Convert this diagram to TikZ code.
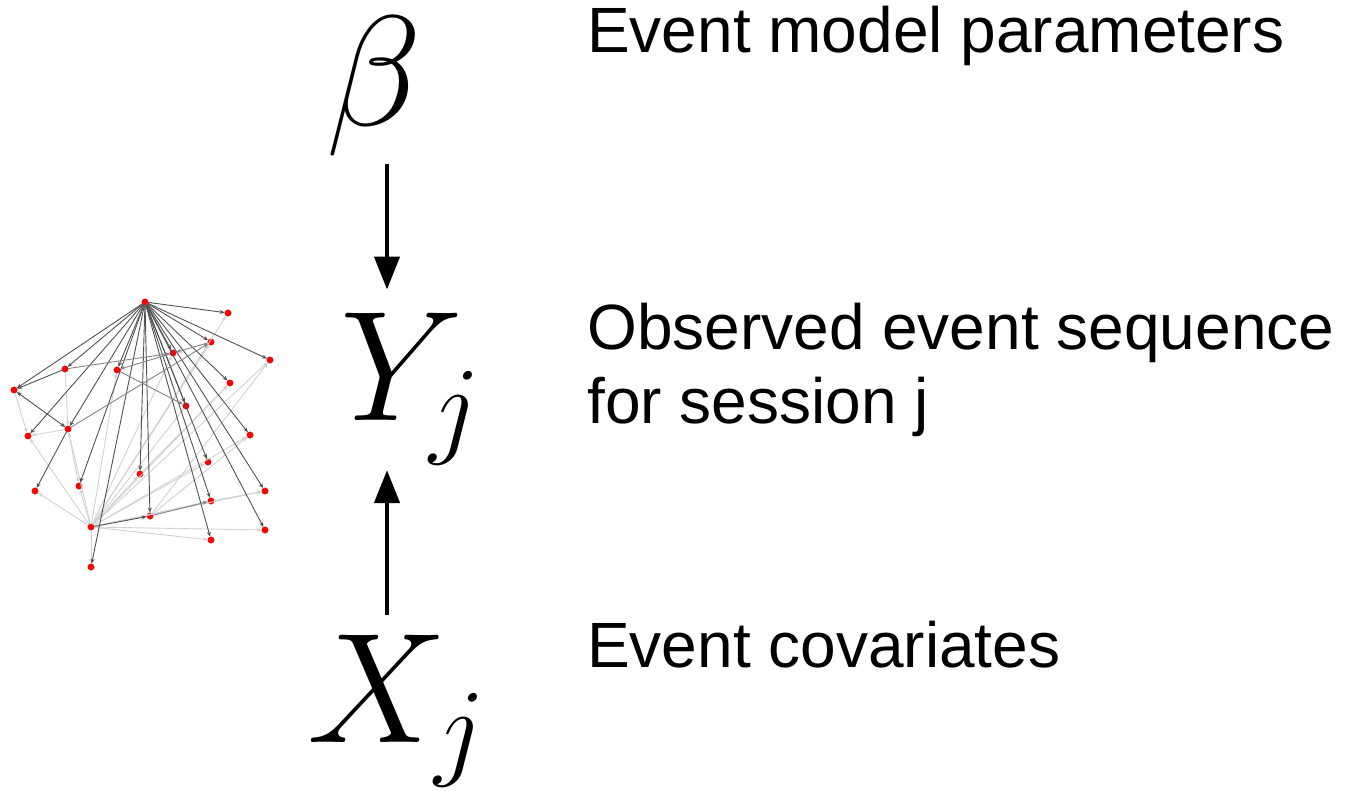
\RequirePackage{fix-cm}
\documentclass[tikz,border=0pt]{standalone}
\usepackage{fontspec}
\setmainfont{Liberation Sans}
\usetikzlibrary{arrows.meta,calc}

\tikzset{
  dot/.style={circle, fill=red, draw=red!80!black, line width=0.3pt, inner sep=0pt, minimum size=6.5pt},
  dk/.style={draw=black!68, line width=0.9pt, -{Stealth[length=5pt,width=4pt]}},
  md/.style={draw=black!48, line width=0.9pt, -{Stealth[length=5pt,width=4pt]}},
  lt/.style={draw=black!18, line width=0.9pt, -{Stealth[length=5pt,width=4pt]}},
  sym/.style={inner sep=0pt, font=\fontsize{157}{160}\selectfont},
  label/.style={inner sep=0pt, anchor=base west, align=left,
    font=\fontsize{64}{73.5}\selectfont},
  bigarrow/.style={line width=4.5pt, -{Triangle[length=33pt,width=25pt]}},
}

\begin{document}
\begin{tikzpicture}[x=1pt, y=-1pt]
\useasboundingbox (0,0) rectangle (1359,790);

% --- small session graph ---
\node[dot] (hub) at (145,302) {};
\node[dot] (f) at (228,313) {};
\node[dot] (g) at (211,342) {};
\node[dot] (h) at (173,353) {};
\node[dot] (i) at (270,360) {};
\node[dot] (a) at (65,369) {};
\node[dot] (c) at (117,370) {};
\node[dot] (b) at (14,390) {};
\node[dot] (j) at (230,383) {};
\node[dot] (k) at (186,406) {};
\node[dot] (d) at (28,436) {};
\node[dot] (e) at (68,429) {};
\node[dot] (l) at (250,435) {};
\node[dot] (s) at (208,462) {};
\node[dot] (o) at (140,474) {};
\node[dot] (n) at (79,486) {};
\node[dot] (m) at (35,491) {};
\node[dot] (t) at (265,491) {};
\node[dot] (u) at (211,501) {};
\node[dot] (r) at (150,516) {};
\node[dot] (p) at (91,527) {};
\node[dot] (v) at (265,530) {};
\node[dot] (w) at (211,540) {};
\node[dot] (q) at (91,567) {};

% faint transitions
\foreach \x in {m,d,e,n,o,s,l,i,f,g,j,t,v,w,q,c,h,k,u}
  \draw[lt] (p) -- (\x);
\draw[lt] (r) -- (i);
\draw[lt] (u) -- (t);
\draw[lt] (b) -- (d);
\draw[lt] (e) -- (d);
\draw[lt] (a) -- (e);
\draw[lt] (e) -- (n);
\draw[lt] (o) -- (j);
\draw[lt] (r) -- (l);

% strong transitions
\foreach \x in {f,g,h,i,j,k,l,s,t,u,v,w,o,r,a,b,c,d,e,n,q}
  \draw[dk] (hub) -- (\x);
\draw[dk] (a) -- (b);
\draw[dk, {Stealth[length=5pt,width=4pt]}-{Stealth[length=5pt,width=4pt]}] (b) -- (e);
\draw[dk] (e) -- (m);
\draw[md] (g) -- (h);
\draw[md] (h) -- (c);
\draw[md] (c) -- (k);
\draw[md] (e) -- (g);
\draw[md] (a) -- (h);
\draw[dk] (p) -- (r);
\draw[md] (r) -- (u);

% --- model ---
\coordinate (ax) at (387,0);
\node[sym, anchor=base] (beta) at (374,125) {$\beta$};
\node[sym, anchor=base west] (Y) at (340,420) {$Y_j$};
\node[sym, anchor=base west] (X) at (307,742) {$X_j$};

\draw[bigarrow, shorten <=8pt, shorten >=23pt] (beta.south -| ax) -- (Y.north -| ax);
\draw[bigarrow, shorten <=20pt, shorten >=5pt] (X.north -| ax) -- (Y.south -| ax);

% --- descriptions ---
\node[label] (tb) at (587,52) {Event model parameters};
\node[label] (ty) at (587,423) {Observed event sequence\\for session j};
\node[label] (tx) at (587,667) {Event covariates};
\end{tikzpicture}
\end{document}
